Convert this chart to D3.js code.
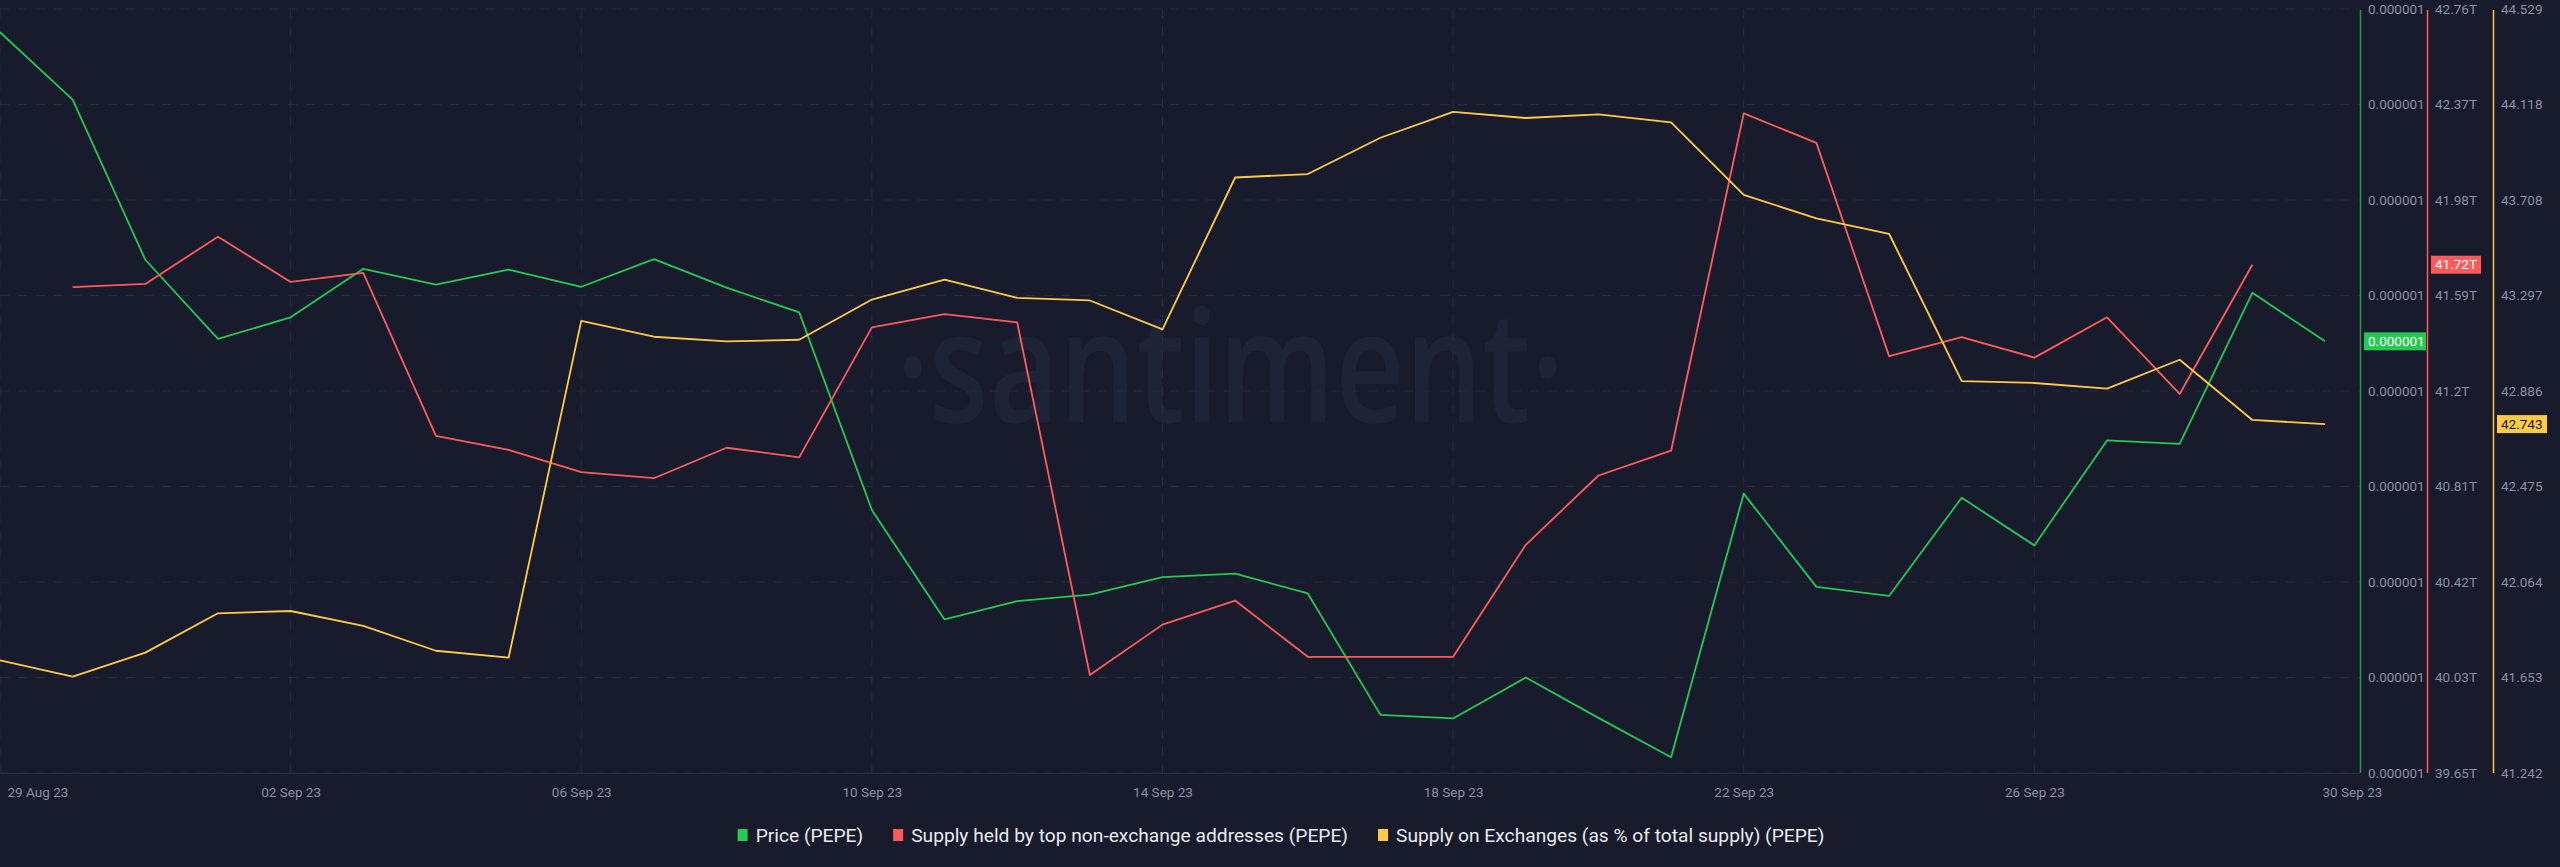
<!DOCTYPE html>
<html>
<head>
<meta charset="utf-8">
<script src="https://cdn.jsdelivr.net/npm/d3@7"></script>
<style>
  html, body { margin: 0; padding: 0; background: #181b2b; }
  svg { display: block; }
  .tick text { font-family: Roboto, "Noto Sans", sans-serif; }
</style>
</head>
<body>
<svg id="chart"></svg>
<script>
// daily points, 29 Aug 23 .. 30 Sep 23
const startDay = Date.UTC(2023, 7, 29);
const endDay = Date.UTC(2023, 8, 30);

// Price (PEPE), USD
const priceValues = [
  9.315e-7, 9.068e-7, 8.481e-7, 8.191e-7, 8.270e-7, 8.448e-7, 8.390e-7, 8.445e-7,
  8.382e-7, 8.483e-7, 8.379e-7, 8.288e-7, 7.564e-7, 7.163e-7, 7.230e-7, 7.254e-7,
  7.318e-7, 7.331e-7, 7.258e-7, 6.813e-7, 6.800e-7, 6.950e-7, 6.802e-7, 6.658e-7,
  7.624e-7, 7.282e-7, 7.249e-7, 7.609e-7, 7.434e-7, 7.819e-7, 7.806e-7, 8.360e-7,
  8.182e-7
];

// Supply held by top non-exchange addresses (PEPE), trillions; no value on 29 Aug, none on 30 Sep
const holderValues = [
  null, 41.628, 41.641, 41.833, 41.649, 41.686, 41.022, 40.965,
  40.875, 40.850, 40.974, 40.935, 41.464, 41.518, 41.484, 40.049,
  40.254, 40.352, 40.123, 40.123, 40.123, 40.579, 40.861, 40.962,
  42.335, 42.215, 41.347, 41.424, 41.341, 41.505, 41.193, 41.719,
  null
];

// Supply on Exchanges (as % of total supply) (PEPE)
const exchangeValues = [
  41.727, 41.657, 41.760, 41.929, 41.939, 41.875, 41.768, 41.738,
  43.187, 43.119, 43.099, 43.106, 43.279, 43.365, 43.286, 43.275,
  43.151, 43.804, 43.819, 43.975, 44.086, 44.060, 44.076, 44.041,
  43.729, 43.628, 43.562, 42.928, 42.920, 42.896, 43.020, 42.761,
  42.743
];

const priceTickLabels = ["0.000001", "0.000001", "0.000001", "0.000001", "0.000001",
  "0.000001", "0.000001", "0.000001", "0.000001"];
const holderTickLabels = ["39.65T", "40.03T", "40.42T", "40.81T", "41.2T",
  "41.59T", "41.98T", "42.37T", "42.76T"];
const exchangeTickLabels = ["41.242", "41.653", "42.064", "42.475", "42.886",
  "43.297", "43.708", "44.118", "44.529"];

const seriesNames = ["Price (PEPE)", "Supply held by top non-exchange addresses (PEPE)",
  "Supply on Exchanges (as % of total supply) (PEPE)"];
const seriesColors = ["#26c953", "#ff5b5b", "#ffcb47"];

// ---------------------------------------------------------------
const W = 2560, H = 867;
const plot = { left: 0, right: 2360, top: 9, bottom: 773 };
const bg = "#181b2b";
const gridColor = "#272b3e";
const labelColor = "#8a8fa4";
const font = "Roboto, 'Noto Sans', sans-serif";

const svg = d3.select("#chart").attr("width", W).attr("height", H);
svg.append("rect").attr("width", W).attr("height", H).attr("fill", bg);

const days = d3.utcDay.range(startDay, endDay + 1);

const x = d3.scaleUtc().domain([startDay, endDay]).range([0, 2325]);

const yPrice = d3.scaleLinear().domain([6.6e-7, 9.4e-7]).range([plot.bottom, plot.top]);
const yHolder = d3.scaleLinear().domain([39.65, 42.76]).range([plot.bottom, plot.top]);
const yExchange = d3.scaleLinear().domain([41.242, 44.529]).range([plot.bottom, plot.top]);

const splitDomain = (s) => d3.range(9).map(i => s.domain()[0] + i * (s.domain()[1] - s.domain()[0]) / 8);

// watermark
svg.append("text")
  .attr("x", 896)
  .attr("y", 422)
  .attr("font-family", "'Open Sans', sans-serif")
  .attr("font-weight", 600)
  .attr("font-size", 156)
  .attr("textLength", 668)
  .attr("lengthAdjust", "spacingAndGlyphs")
  .attr("fill", "#1f2336")
  .text("\u00b7santiment\u00b7");

// horizontal grid
const gridG = svg.append("g");
gridG.selectAll("line.h")
  .data(splitDomain(yHolder))
  .join("line")
  .attr("class", "h")
  .attr("x1", plot.left).attr("x2", plot.right)
  .attr("y1", d => yHolder(d)).attr("y2", d => yHolder(d))
  .attr("stroke", gridColor)
  .attr("stroke-width", 1)
  .attr("stroke-dasharray", "9 9");

// vertical grid, one every 4 days from the first day
const xTicks = d3.range(0, days.length, 4).map(i => days[i]);
gridG.selectAll("line.v")
  .data(xTicks.filter(d => +d < endDay))
  .join("line")
  .attr("class", "v")
  .attr("x1", d => x(d)).attr("x2", d => x(d))
  .attr("y1", plot.top).attr("y2", plot.bottom)
  .attr("stroke", gridColor)
  .attr("stroke-width", 1)
  .attr("stroke-dasharray", "9 9");

// bottom axis
const xAxis = svg.append("g")
  .attr("transform", `translate(0,${plot.bottom})`)
  .call(d3.axisBottom(x)
    .tickValues(xTicks)
    .tickFormat(d3.utcFormat("%d %b %y"))
    .tickSize(0)
    .tickPadding(14));
xAxis.select(".domain").attr("stroke", "#2a2e40").attr("d", `M0,0.5H${plot.right}`);
xAxis.selectAll(".tick text")
  .attr("fill", labelColor)
  .attr("font-size", 13.5)
  .attr("text-anchor", (d, i) => (i === 0 ? "start" : (+d === endDay ? "start" : "middle")))
  .attr("dx", (d, i) => (i === 0 ? 7 : (+d === endDay ? -3 : 0)));

// lines
const seriesList = [
  { values: priceValues, y: yPrice, color: seriesColors[0] },
  { values: holderValues, y: yHolder, color: seriesColors[1] },
  { values: exchangeValues, y: yExchange, color: seriesColors[2] }
];

const lineG = svg.append("g");
seriesList.forEach(s => {
  const line = d3.line()
    .defined(d => d[1] !== null)
    .x(d => x(d[0]))
    .y(d => s.y(d[1]));
  lineG.append("path")
    .datum(days.map((d, i) => [d, s.values[i]]))
    .attr("d", line)
    .attr("fill", "none")
    .attr("stroke", s.color)
    .attr("stroke-width", 1.8)
    .attr("stroke-linejoin", "round");
});

// right axes
const axesSpec = [
  { x: 2360, scale: yPrice, labels: priceTickLabels, color: "#229a44" },
  { x: 2427, scale: yHolder, labels: holderTickLabels, color: seriesColors[1] },
  { x: 2493, scale: yExchange, labels: exchangeTickLabels, color: seriesColors[2] }
];
axesSpec.forEach(a => {
  const vals = splitDomain(a.scale);
  const g = svg.append("g")
    .attr("transform", `translate(${a.x},0)`)
    .call(d3.axisRight(a.scale)
      .tickValues(vals)
      .tickFormat((d, i) => a.labels[i])
      .tickSize(0)
      .tickPadding(8));
  g.select(".domain").remove();
  g.append("line")
    .attr("x1", 0.5).attr("x2", 0.5)
    .attr("y1", plot.top + 1).attr("y2", plot.bottom)
    .attr("stroke", a.color)
    .attr("stroke-width", 1.5);
  g.selectAll(".tick text")
    .attr("fill", labelColor)
    .attr("font-size", 13.5);
});

// last value badges
const badges = [
  { x: 2364, w: 62, y: yPrice(priceValues[priceValues.length - 1]), text: d3.format(".6f")(priceValues[priceValues.length - 1]), fill: seriesColors[0], textColor: "#ffffff" },
  { x: 2431, w: 50, y: yHolder(holderValues[31]), text: d3.format(".2f")(holderValues[31]) + "T", fill: seriesColors[1], textColor: "#ffffff" },
  { x: 2497, w: 50, y: yExchange(exchangeValues[exchangeValues.length - 1]), text: d3.format(".3f")(exchangeValues[exchangeValues.length - 1]), fill: seriesColors[2], textColor: "#181b2b" }
];
badges.forEach(b => {
  svg.append("rect")
    .attr("x", b.x).attr("y", b.y - 9)
    .attr("width", b.w).attr("height", 18)
    .attr("fill", b.fill);
  svg.append("text")
    .attr("x", b.x + 4).attr("y", b.y)
    .attr("dy", "0.35em")
    .attr("font-family", font)
    .attr("font-size", 13.5)
    .attr("fill", b.textColor)
    .text(b.text);
});

// legend
const legend = svg.append("g").attr("transform", "translate(0,835)");
const items = legend.selectAll("g")
  .data(seriesNames)
  .join("g");
items.append("rect")
  .attr("y", -6).attr("width", 10).attr("height", 12)
  .attr("fill", (d, i) => seriesColors[i]);
items.append("text")
  .attr("x", 18).attr("dy", "0.35em")
  .attr("font-family", font)
  .attr("font-size", 19.2)
  .attr("fill", "#e9ebf2")
  .text(d => d);
const widths = [];
items.each(function () { widths.push(this.getBBox().width); });
const gap = 30;
const total = d3.sum(widths) + gap * (widths.length - 1);
let pos = 1281 - total / 2;
items.attr("transform", (d, i) => {
  const t = `translate(${pos},0)`;
  pos += widths[i] + gap;
  return t;
});
</script>
</body>
</html>
